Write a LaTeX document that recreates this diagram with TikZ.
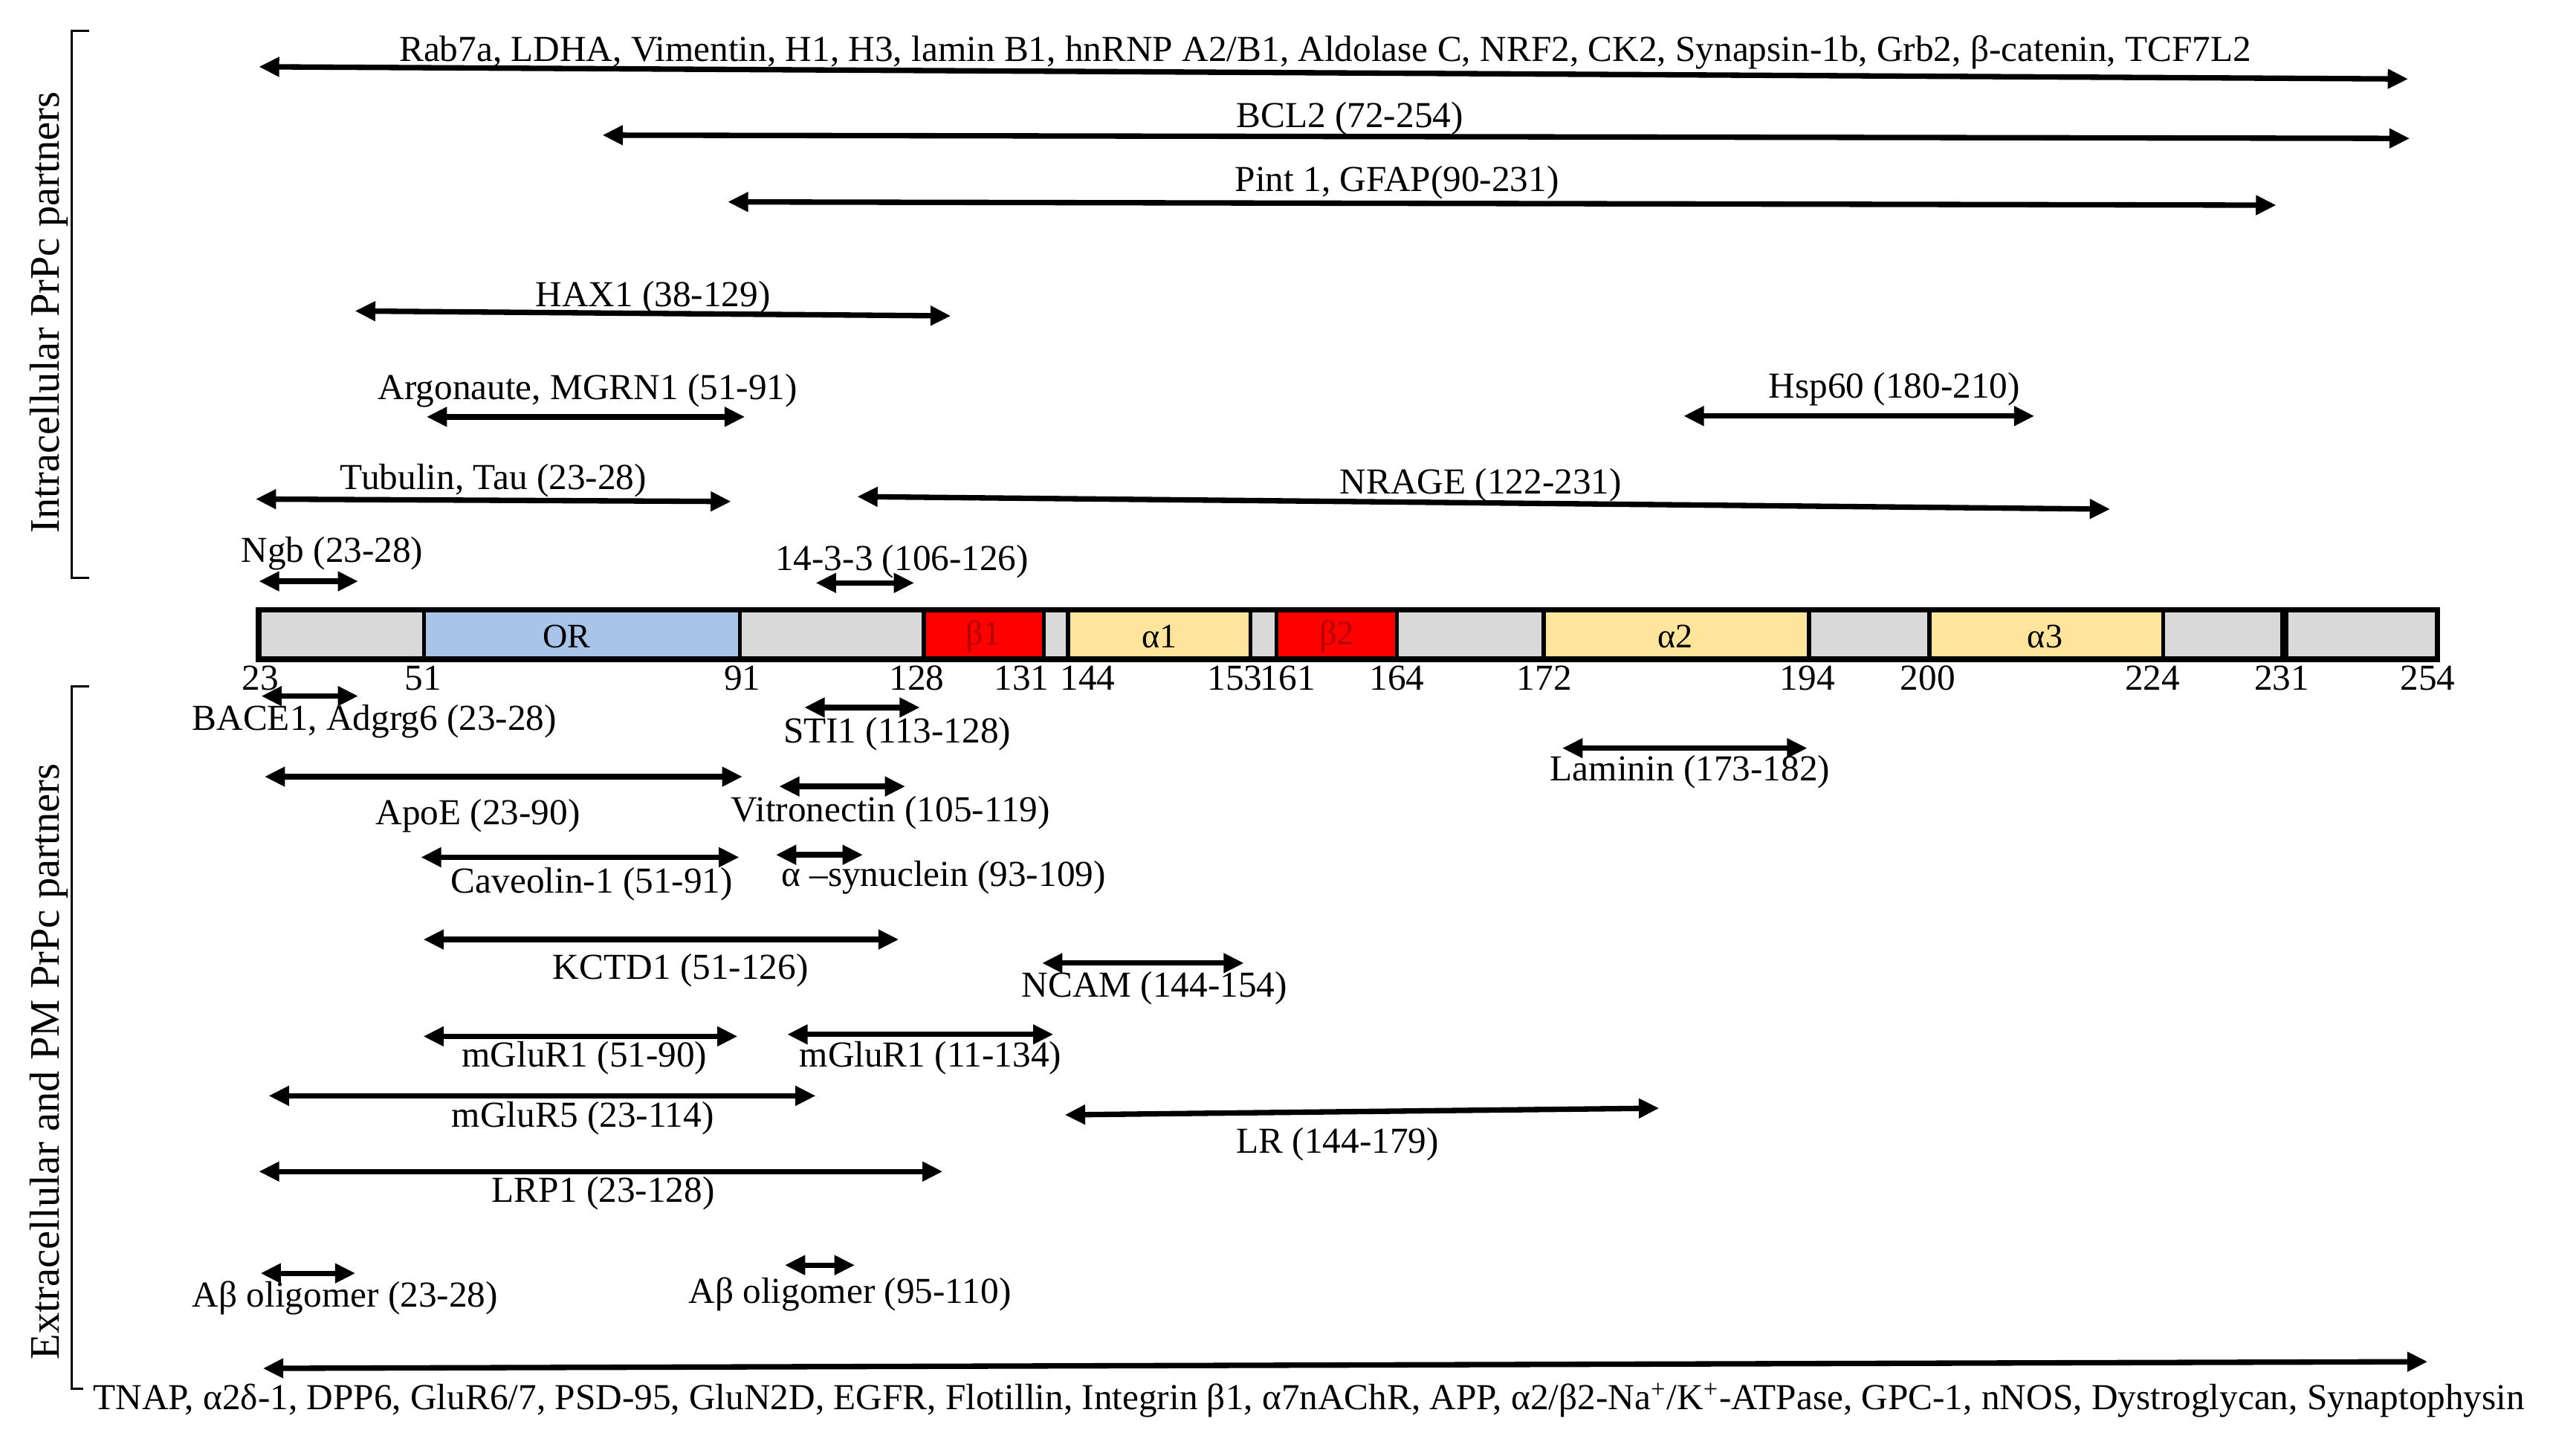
\documentclass[tikz,border=0pt]{standalone}
\usepackage{fontspec}
\setmainfont{Liberation Serif}
\usetikzlibrary{arrows.meta}
\definecolor{cgrey}{RGB}{217,217,217}
\definecolor{cblue}{RGB}{168,196,232}
\definecolor{cred}{RGB}{255,0,0}
\definecolor{cyel}{RGB}{255,228,156}
\definecolor{cdred}{RGB}{180,0,0}
\newcommand\rangearrow[5]{%
  \coordinate (#1a) at (#2); \coordinate (#1b) at (#3);
  \draw[rng] (#1a) -- (#1b);
  \node[lbl,yshift=-0.04cm] (#1t) at (#4) {#5};}
\begin{document}
\begin{tikzpicture}[x=0.02cm,y=-0.02cm,
  rng/.style={line width=1.9pt,{Triangle[length=2.5mm,width=2.3mm]}-{Triangle[length=2.5mm,width=2.3mm]}},
  lbl/.style={inner sep=0pt,font=\fontsize{12.8}{14}\selectfont},
  side/.style={inner sep=0pt,rotate=90,font=\fontsize{14.7}{16}\selectfont},
  brk/.style={line width=0.7pt},
  seg/.style={inner sep=0pt,font=\fontsize{12}{13}\selectfont}]
\useasboundingbox[fill=white] (0,0) rectangle (1568,894);

% brackets and side labels
\node[side] (intra) at (30,192) {Intracellular PrPc partners};
\node[side] (extra) at (30,652) {Extracellular and PM PrPc partners};
\draw[brk] (55,19) -- (44,19) -- (44,355) -- (55,355);
\draw[brk] (55,421.5) -- (44,421.5) -- (44,853) -- (51,853);

% protein bar
\foreach \a/\b/\c in {159/260.5/cgrey,260.5/454.5/cblue,454.5/567.5/cgrey,567.5/641/cred,641/656/cgrey,656/768/cyel,768/784/cgrey,784/858/cred,858/948/cgrey,948/1111/cyel,1111/1185/cgrey,1185/1328.5/cyel,1328.5/1403/cgrey,1403/1497/cgrey}
  \fill[\c] (\a,374.5) rectangle (\b,405);
\foreach \x in {260.5,454.5,567.5,641,656,768,784,858,948,1111,1185,1328.5}
  \draw[line width=0.05cm] (\x,374.5) -- (\x,405);
\draw[line width=0.1cm] (1403,374.5) -- (1403,405);
\draw[line width=0.07cm] (159,374.5) rectangle (1497,405);
\node[seg] (sOR) at (348,391) {OR};
\node[seg,text=cdred] (sb1) at (604,391) {β1};
\node[seg] (sa1) at (712,391) {α1};
\node[seg,text=cdred] (sb2) at (821,391) {β2};
\node[seg] (sa2) at (1029,391) {α2};
\node[seg] (sa3) at (1256,391) {α3};
\foreach \x/\t in {160/23,260/51,456/91,563/128,627.5/131,668/144,758.5/153,791/161,858/164,948.5/172,1110/194,1184/200,1322/224,1401.5/231,1491/254}
  \node[lbl] (n\t) at (\x,416.5) {\t};

% intracellular partners
\rangearrow{rab}{159,41}{1479,48.5}{814,30}{Rab7a, LDHA, Vimentin, H1, H3, lamin B1, hnRNP A2/B1, Aldolase C, NRF2, CK2, Synapsin-1b, Grb2, β-catenin, TCF7L2}
\rangearrow{bcl}{370,83}{1480,85}{829,71}{BCL2 (72-254)}
\rangearrow{pint}{447,124}{1398,126}{858,110}{Pint 1, GFAP(90-231)}
\rangearrow{hax}{218,191}{584,194}{401,181}{HAX1 (38-129)}
\rangearrow{arg}{262,256}{457.5,256}{361,238}{Argonaute, MGRN1 (51-91)}
\rangearrow{tub}{157,306.5}{449,308}{303,293}{Tubulin, Tau (23-28)}
\rangearrow{ngb}{159,357}{220,357}{204,338}{Ngb (23-28)}
\rangearrow{ft}{501,358}{561.5,358}{554,343}{14-3-3 (106-126)}
\rangearrow{nrage}{526.5,305}{1296,312.7}{909.5,296}{NRAGE (122-231)}
\rangearrow{hsp}{1034,255.5}{1249.5,255.5}{1163.5,237}{Hsp60 (180-210)}

% extracellular and PM partners
\rangearrow{bace}{160.5,427.5}{220,427.5}{230,441}{BACE1, Adgrg6 (23-28)}
\rangearrow{apoe}{162.5,477}{456,477}{293.5,499}{ApoE (23-90)}
\rangearrow{cav}{258.5,526.5}{454,526.5}{363.5,541}{Caveolin-1 (51-91)}
\rangearrow{sti}{494,434.5}{565,434.5}{551,449}{STI1 (113-128)}
\rangearrow{vit}{478.5,483}{556,483}{547,497}{Vitronectin (105-119)}
\rangearrow{syn}{476.5,525}{530,525}{579.5,537}{α –synuclein (93-109)}
\rangearrow{lam}{959.5,459.5}{1110,459.5}{1038,472}{Laminin (173-182)}
\rangearrow{kctd}{260,577}{552,577}{418,594}{KCTD1 (51-126)}
\rangearrow{ncam}{640,591.5}{764,591.5}{709,605}{NCAM (144-154)}
\rangearrow{mga}{260,636.5}{453,636.5}{359,648}{mGluR1 (51-90)}
\rangearrow{mgb}{483.5,635.3}{647,635.3}{571.5,648}{mGluR1 (11-134)}
\rangearrow{mgf}{165,673}{501,673}{358,685}{mGluR5 (23-114)}
\rangearrow{lr}{654,684.7}{1019,680.6}{821.5,701}{LR (144-179)}
\rangearrow{lrp}{159,719.5}{579,719.5}{370.5,731}{LRP1 (23-128)}
\rangearrow{aba}{160,782}{218.3,782}{212,795}{Aβ oligomer (23-28)}
\rangearrow{abb}{482,777}{525,777}{522,793}{Aβ oligomer (95-110)}
\rangearrow{tnap}{161.5,840.4}{1491,836.3}{804,858}{TNAP, α2δ-1, DPP6, GluR6/7, PSD-95, GluN2D, EGFR, Flotillin, Integrin β1, α7nAChR, APP, α2/β2-Na\textsuperscript{+}/K\textsuperscript{+}-ATPase, GPC-1, nNOS, Dystroglycan, Synaptophysin}
\end{tikzpicture}
\end{document}
